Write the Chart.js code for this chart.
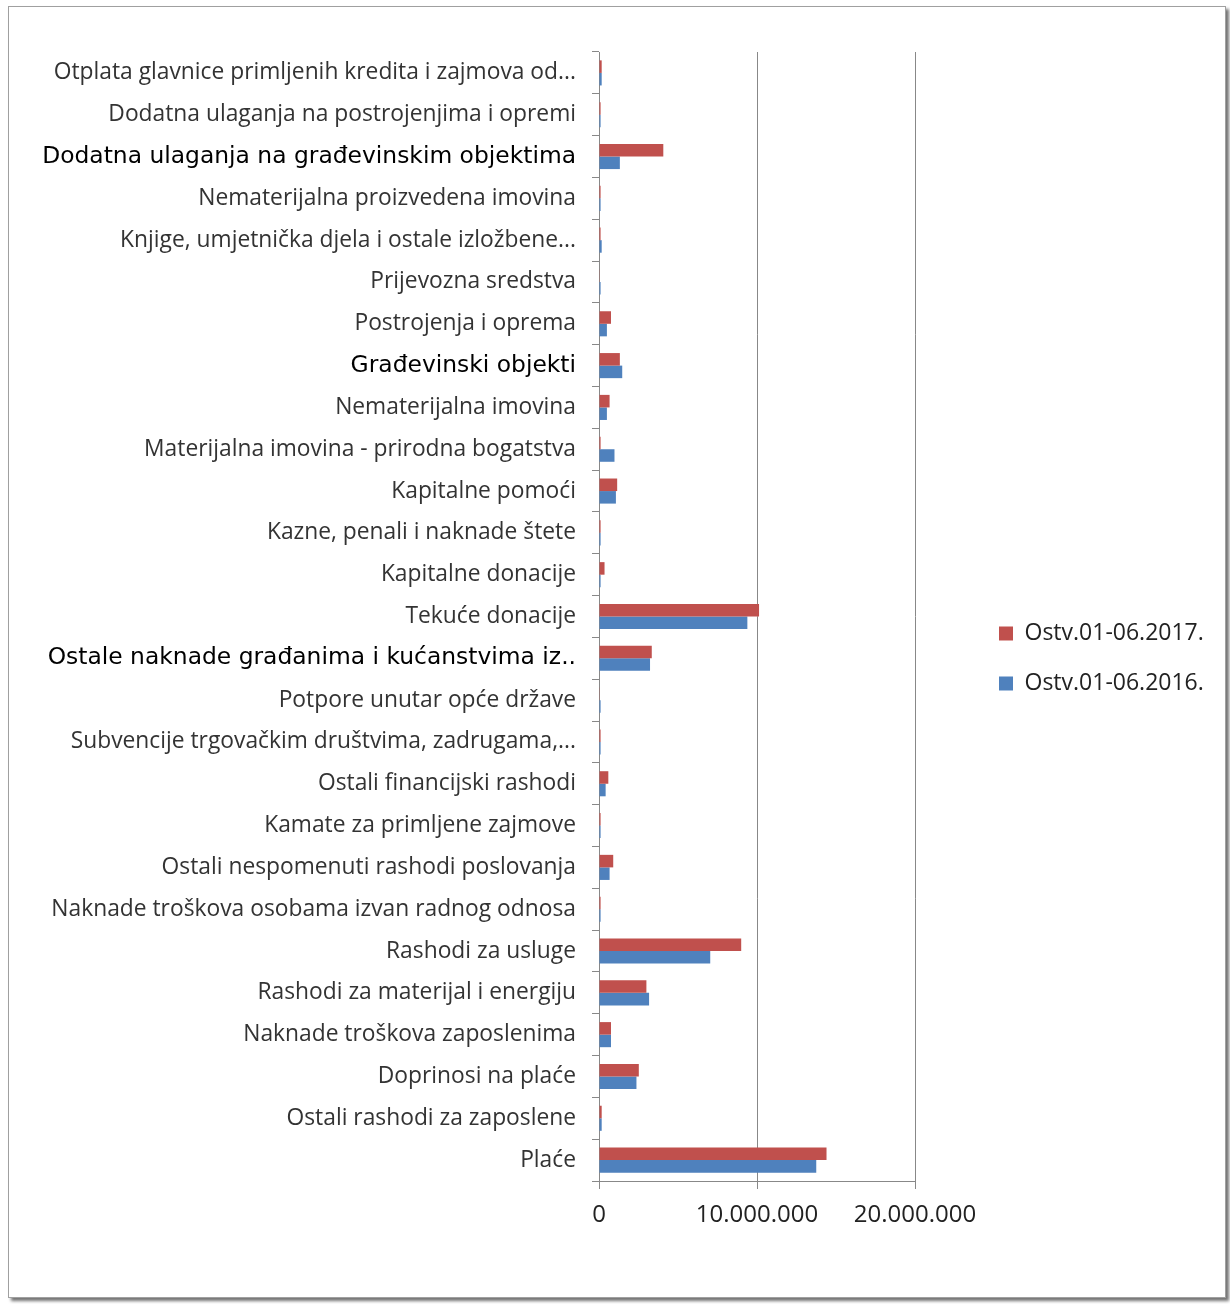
<!DOCTYPE html>
<html>
<head>
<meta charset="utf-8">
<script src="https://cdn.jsdelivr.net/npm/chart.js@4/dist/chart.umd.min.js"></script>
<style>
  html, body { margin: 0; padding: 0; background: #fff; }
  #frame { position: absolute; left: 8px; top: 6px; width: 1216px; height: 1290px;
           border: 1px solid #a0a0a0; box-shadow: 3px 3px 3px rgba(0,0,0,0.55); background: #fff; }
  #c { position: absolute; left: 0; top: 0; }
</style>
</head>
<body>
<div id="frame"></div>
<canvas id="c" width="1230" height="1304"></canvas>
<script>
// categories, top to bottom as in the picture
var categories = [
    'Otplata glavnice primljenih kredita i zajmova od...',
    'Dodatna ulaganja na postrojenjima i opremi',
    'Dodatna ulaganja na građevinskim objektima',
    'Nematerijalna proizvedena imovina',
    'Knjige, umjetnička djela i ostale izložbene...',
    'Prijevozna sredstva',
    'Postrojenja i oprema',
    'Građevinski objekti',
    'Nematerijalna imovina',
    'Materijalna imovina - prirodna bogatstva',
    'Kapitalne pomoći',
    'Kazne, penali i naknade štete',
    'Kapitalne donacije',
    'Tekuće donacije',
    'Ostale naknade građanima i kućanstvima iz..',
    'Potpore unutar opće države',
    'Subvencije trgovačkim društvima, zadrugama,...',
    'Ostali financijski rashodi',
    'Kamate za primljene zajmove',
    'Ostali nespomenuti rashodi poslovanja',
    'Naknade troškova osobama izvan radnog odnosa',
    'Rashodi za usluge',
    'Rashodi za materijal i energiju',
    'Naknade troškova zaposlenima',
    'Doprinosi na plaće',
    'Ostali rashodi za zaposlene',
    'Plaće'
];

var ostv2017 = [170000, 100000, 4070000, 100000, 100000, 20000, 760000, 1320000, 670000,
    100000, 1150000, 100000, 350000, 10130000, 3340000, 20000, 100000, 590000, 100000,
    900000, 100000, 9000000, 3000000, 760000, 2520000, 170000, 14400000];

var ostv2016 = [170000, 100000, 1320000, 100000, 170000, 100000, 500000, 1470000, 500000,
    980000, 1070000, 100000, 100000, 9390000, 3230000, 100000, 100000, 420000, 100000,
    670000, 100000, 7040000, 3170000, 760000, 2370000, 170000, 13750000];

var xTicks = [0, 10000000, 20000000];

// labels drawn larger and in black in the original
var highlighted = [2, 7, 14];

function fmt(v) {
    return String(v).replace(/\B(?=(\d{3})+(?!\d))/g, '.');
}

// fixed legend width, and legend moved to where the original has it
var legendPlace = {
    id: 'legendPlace',
    afterInit: function (chart) {
        var lg = chart.legend;
        var fit = lg.fit;
        lg.fit = function () { fit.call(this); this.width = 315; };
    },
    afterLayout: function (chart) {
        var lg = chart.legend;
        var w = lg.width;
        lg.left = 999 - lg.options.labels.padding;
        lg.right = lg.left + w;
        lg.top += 2;
        lg.bottom += 2;
    }
};

var ctx = document.getElementById('c').getContext('2d');
var chart = new Chart(ctx, {
    type: 'bar',
    data: {
        labels: categories,
        datasets: [{
            label: 'Ostv.01-06.2017.',
            data: ostv2017,
            backgroundColor: '#C0504D'
        }, {
            label: 'Ostv.01-06.2016.',
            data: ostv2016,
            backgroundColor: '#4F81BD'
        }]
    },
    options: {
        indexAxis: 'y',
        responsive: false,
        animation: false,
        devicePixelRatio: 1,
        categoryPercentage: 0.6,
        barPercentage: 1.0,
        layout: { padding: { left: 0, top: 52, bottom: 43, right: 0 } },
        plugins: {
            tooltip: { enabled: false },
            legend: {
                position: 'right',
                labels: {
                    boxWidth: 14,
                    boxHeight: 14,
                    padding: 27,
                    color: '#222',
                    font: { family: 'Open Sans', size: 23 }
                }
            }
        },
        scales: {
            y: {
                afterFit: function (s) { s.width = 599; },
                grid: { drawOnChartArea: false, tickLength: 7, color: '#888', offset: true },
                border: { color: '#888' },
                ticks: {
                    padding: 16,
                    autoSkip: false,
                    color: function (c) { return highlighted.indexOf(c.index) >= 0 ? '#000' : '#333'; },
                    font: function (c) {
                        return highlighted.indexOf(c.index) >= 0
                            ? { family: 'DejaVu Sans', size: 23.4 }
                            : { family: 'Open Sans', size: 22.8 };
                    }
                }
            },
            x: {
                min: 0,
                max: 20000000,
                afterFit: function (s) { s.height = 80; },
                afterBuildTicks: function (s) {
                    s.ticks = xTicks.map(function (v) { return { value: v }; });
                },
                grid: { color: '#888', tickLength: 8 },
                border: { color: '#888' },
                ticks: {
                    padding: 12,
                    color: '#222',
                    font: { family: 'Open Sans', size: 24 },
                    callback: function (v) { return fmt(v); }
                }
            }
        }
    },
    plugins: [legendPlace]
});
</script>
</body>
</html>
